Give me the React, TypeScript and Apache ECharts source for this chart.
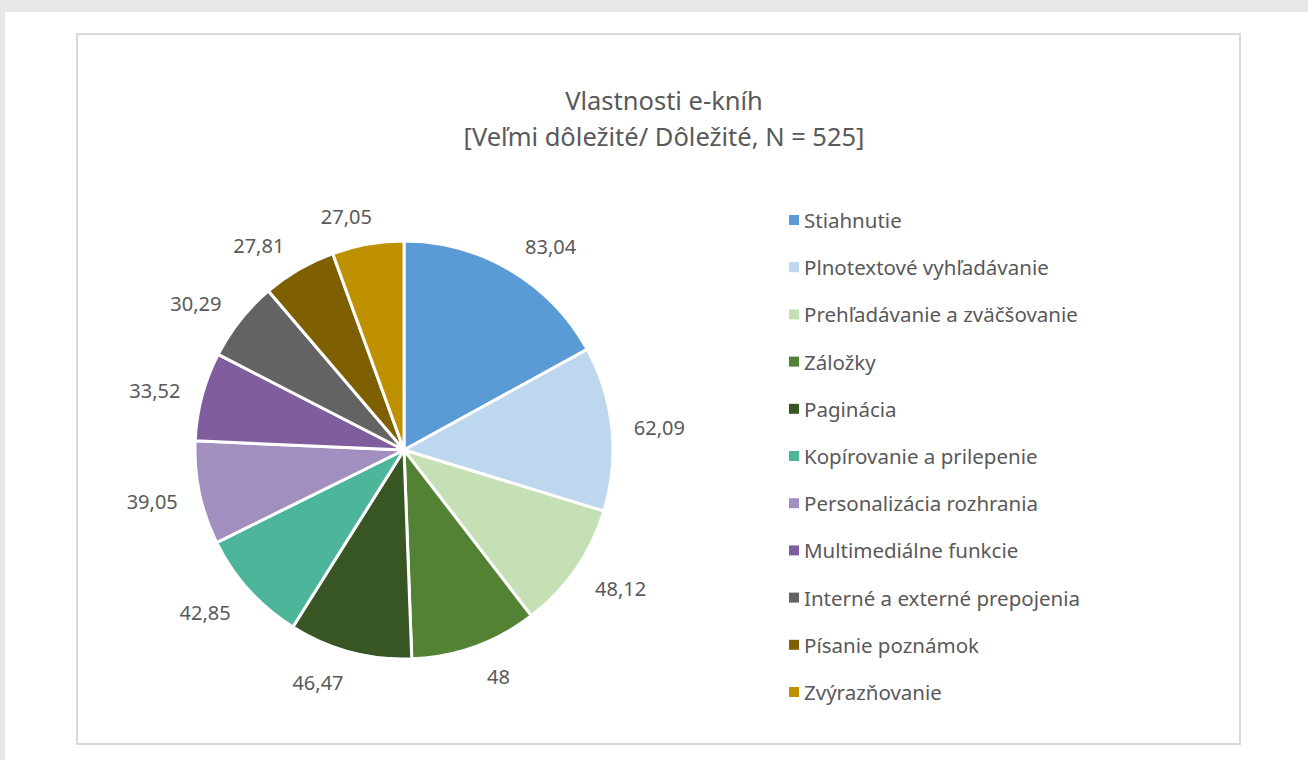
import React, { useEffect, useRef } from "react";
import * as echarts from "echarts";

const categories = [
  "Stiahnutie",
  "Plnotextové vyhľadávanie",
  "Prehľadávanie a zväčšovanie",
  "Záložky",
  "Paginácia",
  "Kopírovanie a prilepenie",
  "Personalizácia rozhrania",
  "Multimediálne funkcie",
  "Interné a externé prepojenia",
  "Písanie poznámok",
  "Zvýrazňovanie",
];
const values = [83.04, 62.09, 48.12, 48, 46.47, 42.85, 39.05, 33.52, 30.29, 27.81, 27.05];
const colors = [
  "#5B9BD5",
  "#BDD7EE",
  "#C5E0B4",
  "#548235",
  "#375623",
  "#4DB59A",
  "#A18FBF",
  "#805D9D",
  "#636363",
  "#7F6000",
  "#BF9000",
];

const CX = 404;
const CY = 450;
const R = 209;
const BASE = 224;
const FONT = "'Noto Sans', 'Open Sans', sans-serif";
const GREY = "#595959";

export default function App() {
  const ref = useRef<HTMLDivElement>(null);
  useEffect(() => {
    if (!ref.current) return;
    const chart = echarts.init(ref.current, undefined, { renderer: "svg" });
    const total = values.reduce((a, b) => a + b, 0);
    const mids: number[] = [];
    let acc = 0;
    values.forEach((v) => {
      mids.push(((acc + v / 2) / total) * Math.PI * 2);
      acc += v;
    });
    chart.setOption({
      animation: false,
      backgroundColor: "#e6e7e9",
      textStyle: { fontFamily: FONT },
      graphic: [
        {
          type: "rect",
          shape: { x: 5, y: 12, width: 1303, height: 748 },
          style: { fill: "#ffffff" },
          z: -10,
        },
        {
          type: "rect",
          shape: { x: 77, y: 34, width: 1163, height: 710 },
          style: { fill: "#ffffff", stroke: "#d9d9d9", lineWidth: 2 },
          z: -9,
        },
      ],
      title: {
        text: "Vlastnosti e-kníh\n[Veľmi dôležité/ Dôležité, N = 525]",
        left: 659,
        top: 77,
        textAlign: "center",
        textStyle: {
          fontFamily: FONT,
          fontSize: 25.5,
          fontWeight: "normal",
          color: GREY,
          lineHeight: 36,
          align: "center",
        },
      },
      legend: {
        orient: "vertical",
        left: 789,
        top: 209,
        padding: 0,
        icon: "rect",
        itemWidth: 10,
        itemHeight: 10,
        itemGap: 25.2,
        itemStyle: { borderWidth: 0 },
        textStyle: { fontFamily: FONT, fontSize: 20.5, color: GREY, lineHeight: 22 },
        data: categories,
      },
      series: [
        {
          type: "pie",
          center: [CX, CY],
          radius: [0, R],
          startAngle: 90,
          clockwise: true,
          color: colors,
          itemStyle: { borderColor: "#ffffff", borderWidth: 3 },
          label: {
            show: true,
            position: "outside",
            formatter: (p: any) => String(p.value).replace(".", ","),
            fontFamily: FONT,
            fontSize: 20,
            color: GREY,
          },
          labelLine: { show: false },
          labelLayout: (p: any) => {
            const a = mids[p.dataIndex];
            const s = Math.sin(a);
            const c = Math.cos(a);
            const w = p.labelRect.width / 2;
            const shiftX = Math.sign(s) * (w + 7) * Math.min(1, Math.abs(s) / 0.3);
            return {
              x: CX + BASE * s + shiftX,
              y: CY - BASE * c - 15 * c + 2,
              align: "center",
              verticalAlign: "middle",
            };
          },
          data: categories.map((n, i) => ({ name: n, value: values[i] })),
        },
      ],
    });
    return () => chart.dispose();
  }, []);
  return (
    <div
      ref={ref}
      style={{ position: "absolute", left: 0, top: 0, width: 1308, height: 760 }}
    />
  );
}
